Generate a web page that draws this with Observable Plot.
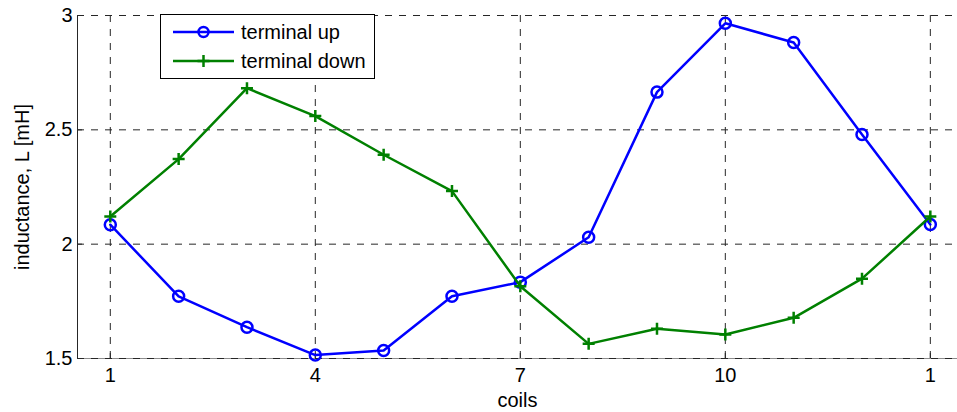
<!DOCTYPE html>
<html>
<head>
<meta charset="utf-8">
<script src="https://cdn.jsdelivr.net/npm/d3@7"></script>
<script src="https://cdn.jsdelivr.net/npm/@observablehq/plot@0.6"></script>
<style>
  html, body { margin: 0; padding: 0; background: #fff; }
  #wrap { position: relative; width: 957px; height: 412px; overflow: hidden; font-family: "Liberation Sans", Arial, sans-serif; }
  #legend { position: absolute; left: 160px; top: 14px; width: 213px; height: 63px; border: 1px solid #000; background: #fff; }
</style>
</head>
<body>
<div id="wrap"></div>
<script>
// ---- data ----
const coils = [1, 2, 3, 4, 5, 6, 7, 8, 9, 10, 11, 12, 13];
const terminalUp   = [2.085, 1.772, 1.637, 1.515, 1.535, 1.772, 1.834, 2.030, 2.665, 2.966, 2.882, 2.480, 2.086];
const terminalDown = [2.121, 2.372, 2.682, 2.560, 2.391, 2.232, 1.816, 1.564, 1.630, 1.605, 1.678, 1.849, 2.121];
const seriesNames = ["terminal up", "terminal down"];
const seriesColors = ["#0000ff", "#008000"];
const xTicks = [1, 4, 7, 10, 13];
const xTickLabels = ["1", "4", "7", "10", "1"];
const yTicks = [1.5, 2, 2.5, 3];
const yTickLabels = ["1.5", "2", "2.5", "3"];
const xLabel = "coils";
const yLabel = "inductance, L [mH]";

const upData = coils.map((c, i) => ({coil: c, L: terminalUp[i]}));
const downData = coils.map((c, i) => ({coil: c, L: terminalDown[i]}));

const plusSymbol = {
  draw(ctx, size) {
    const r = Math.sqrt(size / Math.PI);
    ctx.moveTo(-r, 0); ctx.lineTo(r, 0);
    ctx.moveTo(0, -r); ctx.lineTo(0, r);
  }
};

const gridStyle = {stroke: "#262626", strokeOpacity: 1, strokeWidth: 1, strokeDasharray: "7,7"};

const chart = Plot.plot({
  width: 957,
  height: 412,
  marginLeft: 77,
  marginTop: 15,
  marginBottom: 54,
  marginRight: 0,
  style: {fontFamily: "'Liberation Sans', Arial, sans-serif", fontSize: "20px", color: "#000", background: "#fff"},
  x: {domain: [0.52, 13.5], range: [77, 964]},
  y: {domain: [1.5, 3], range: [358, 15]},
  marks: [
    Plot.frame({anchor: "bottom", stroke: "#8c8c8c"}),
    Plot.gridX(xTicks, gridStyle),
    Plot.gridY(yTicks, gridStyle),
    Plot.frame({anchor: "left", stroke: "#262626"}),
    Plot.axisX(xTicks, {
      anchor: "bottom", tickSize: -5, tickPadding: 14, stroke: "#262626",
      tickFormat: d => xTickLabels[xTicks.indexOf(d)],
      fontSize: 20, fill: "#000",
      label: xLabel, labelAnchor: "center", labelOffset: 48, labelArrow: "none"
    }),
    Plot.axisY(yTicks, {
      anchor: "left", tickSize: -5, tickPadding: 10, stroke: "#262626",
      tickFormat: d => yTickLabels[yTicks.indexOf(d)],
      fontSize: 20, fill: "#000",
      label: yLabel, labelAnchor: "center", labelOffset: 63, labelArrow: "none"
    }),
    Plot.line(upData, {x: "coil", y: "L", stroke: seriesColors[0], strokeWidth: 2.5}),
    Plot.dot(upData, {x: "coil", y: "L", r: 5.5, stroke: seriesColors[0], strokeWidth: 2.5, fill: "none"}),
    Plot.line(downData, {x: "coil", y: "L", stroke: seriesColors[1], strokeWidth: 2.5}),
    Plot.dot(downData, {x: "coil", y: "L", r: 6, symbol: plusSymbol, stroke: seriesColors[1], strokeWidth: 2.5, fill: "none"})
  ]
});

const wrap = document.getElementById("wrap");
wrap.appendChild(chart);

// legend
const legend = document.createElement("div");
legend.id = "legend";
const ns = "http://www.w3.org/2000/svg";
const lsvg = document.createElementNS(ns, "svg");
lsvg.setAttribute("width", 213);
lsvg.setAttribute("height", 63);
lsvg.style.display = "block";
seriesNames.forEach((name, i) => {
  const cy = 17 + i * 29;
  const line = document.createElementNS(ns, "line");
  line.setAttribute("x1", 12); line.setAttribute("x2", 73);
  line.setAttribute("y1", cy); line.setAttribute("y2", cy);
  line.setAttribute("stroke", seriesColors[i]); line.setAttribute("stroke-width", 2.5);
  lsvg.appendChild(line);
  if (i === 0) {
    const c = document.createElementNS(ns, "circle");
    c.setAttribute("cx", 42.5); c.setAttribute("cy", cy); c.setAttribute("r", 5);
    c.setAttribute("fill", "none"); c.setAttribute("stroke", seriesColors[i]); c.setAttribute("stroke-width", 2.5);
    lsvg.appendChild(c);
  } else {
    const p = document.createElementNS(ns, "path");
    p.setAttribute("d", `M${42.5-6},${cy}H${42.5+6}M42.5,${cy-6}V${cy+6}`);
    p.setAttribute("stroke", seriesColors[i]); p.setAttribute("stroke-width", 2.5);
    lsvg.appendChild(p);
  }
  const t = document.createElementNS(ns, "text");
  t.setAttribute("x", 80); t.setAttribute("y", cy);
  t.setAttribute("dy", "0.35em");
  t.setAttribute("font-size", 20);
  t.setAttribute("font-family", "'Liberation Sans', Arial, sans-serif");
  t.setAttribute("fill", "#000");
  t.textContent = name;
  lsvg.appendChild(t);
});
legend.appendChild(lsvg);
wrap.appendChild(legend);
</script>
</body>
</html>
